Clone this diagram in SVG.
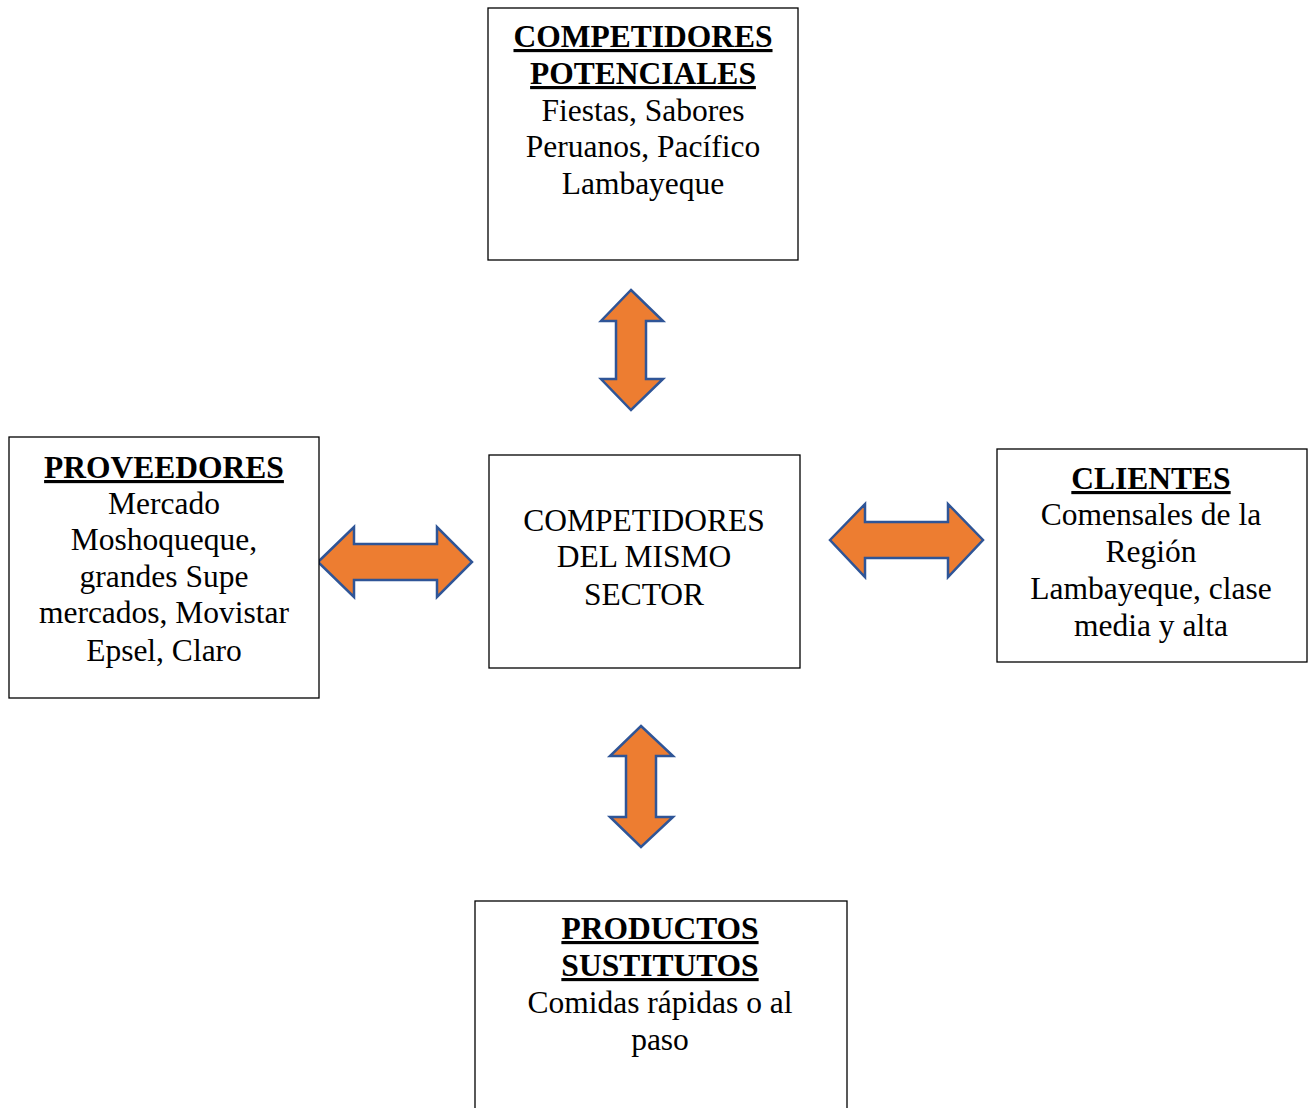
<svg xmlns="http://www.w3.org/2000/svg" width="1311" height="1108" viewBox="0 0 1311 1108">
<style>
.box{fill:#fff;stroke:#000;stroke-width:1.3}
text{font-family:"Liberation Serif","Times New Roman",serif;font-size:31.5px;fill:#000;text-anchor:middle}
.h{font-weight:bold;text-decoration:underline}
.arr{fill:#ED7D31;stroke:#2F5597;stroke-width:2.5;stroke-linejoin:miter}
</style>
<rect width="1311" height="1108" fill="#fff"/>
<g id="connectors">
<polygon class="arr" points="631,290 663,321 646,321 646,379 663,379 631,410 601,379 616,379 616,321 601,321"/>
<polygon class="arr" points="641,726 673,756 656,756 656,817 673,817 641,847 610,817 626,817 626,756 610,756"/>
<polygon class="arr" points="318,562 354,527 354,544 437,544 437,527 472,562 437,597 437,580 354,580 354,597"/>
<polygon class="arr" points="830,540 865,504 865,522 948,522 948,504 983,540 948,577 948,558 865,558 865,577"/>
</g>
<g id="top">
<rect class="box" x="488" y="8" width="310" height="252"/>
<text x="643" y="47" class="h">COMPETIDORES</text>
<text x="643" y="84" class="h">POTENCIALES</text>
<text x="643" y="121">Fiestas, Sabores</text>
<text x="643" y="157">Peruanos, Pacífico</text>
<text x="643" y="194">Lambayeque</text>
</g>
<g id="left">
<rect class="box" x="9" y="437" width="310" height="261"/>
<text x="164" y="478" class="h">PROVEEDORES</text>
<text x="164" y="514">Mercado</text>
<text x="164" y="550">Moshoqueque,</text>
<text x="164" y="587">grandes Supe</text>
<text x="164" y="623">mercados, Movistar</text>
<text x="164" y="661">Epsel, Claro</text>
</g>
<g id="center">
<rect class="box" x="489" y="455" width="311" height="213"/>
<text x="644" y="531">COMPETIDORES</text>
<text x="644" y="567">DEL MISMO</text>
<text x="644" y="605">SECTOR</text>
</g>
<g id="right">
<rect class="box" x="997" y="449" width="310" height="213"/>
<text x="1151" y="489" class="h">CLIENTES</text>
<text x="1151" y="525">Comensales de la</text>
<text x="1151" y="562">Región</text>
<text x="1151" y="599">Lambayeque, clase</text>
<text x="1151" y="636">media y alta</text>
</g>
<g id="bottom">
<rect class="box" x="475" y="901" width="372" height="220"/>
<text x="660" y="939" class="h">PRODUCTOS</text>
<text x="660" y="976" class="h">SUSTITUTOS</text>
<text x="660" y="1013">Comidas rápidas o al</text>
<text x="660" y="1050">paso</text>
</g>
</svg>
